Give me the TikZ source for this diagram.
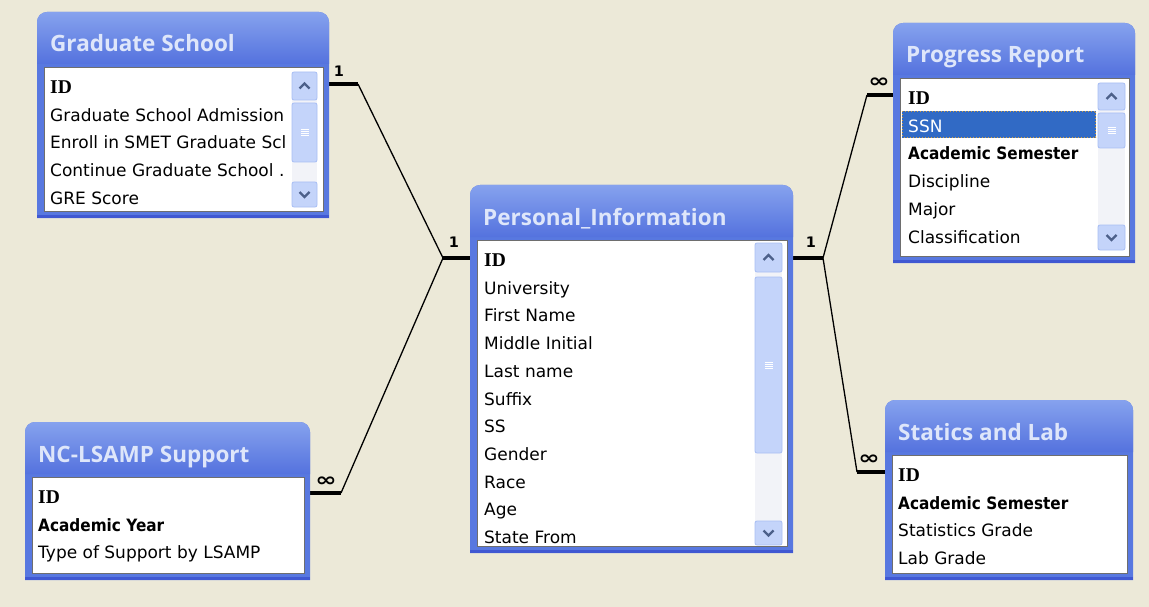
\documentclass[tikz,border=0pt]{standalone}
\usepackage{fontspec}
\setmainfont{DejaVu Sans}
\newfontfamily\rowfont{DejaVu Sans}
\newfontfamily\keyfont{DejaVu Sans}[FakeStretch=0.9]
\newfontfamily\idfont{Liberation Serif}
\newfontfamily\titlefont{Open Sans}
\newfontfamily\relfont{DejaVu Sans}
\definecolor{bg}{RGB}{236,233,216}
\definecolor{winbody}{RGB}{88,120,224}
\definecolor{titletop}{RGB}{134,162,238}
\definecolor{titlebot}{RGB}{84,114,222}
\definecolor{winedge}{RGB}{64,88,210}
\definecolor{titletxt}{RGB}{222,230,250}
\definecolor{boxline}{RGB}{110,110,110}
\definecolor{btnfill}{RGB}{196,212,250}
\definecolor{btnline}{RGB}{168,190,244}
\definecolor{chevc}{RGB}{76,96,138}
\definecolor{trackc}{RGB}{242,243,248}
\definecolor{selblue}{RGB}{49,106,197}
\definecolor{seldot}{RGB}{214,160,60}

\newcommand\xpwin[6]{%
  \fill[winbody] (#2,#5) -- (#2,#3+10) arc[start angle=180,end angle=270,radius=10] -- (#4-10,#3) arc[start angle=270,end angle=360,radius=10] -- (#4,#5) -- cycle;
  \shade[top color=titletop, bottom color=titlebot] (#2,#3+52) -- (#2,#3+10) arc[start angle=180,end angle=270,radius=10] -- (#4-10,#3) arc[start angle=270,end angle=360,radius=10] -- (#4,#3+52) -- cycle;
  \fill[winedge] (#2,#5-3) rectangle (#4,#5);
  \fill[white] (#2+7,#3+55) rectangle (#4-6,#5-7);
  \draw[boxline, line width=0.9pt] (#2+7,#3+55) rectangle (#4-6,#5-7);
  \node[wintitle] (#1) at (#2+13,#3+40) {#6};
}
% l r upTop upBot thumbTop thumbBot downTop downBot
\newcommand\xpscroll[8]{%
  \fill[trackc] (#1,#3) rectangle (#2,#8);
  \draw[btnline, fill=btnfill, rounded corners=2pt, line width=0.8pt] (#1,#3) rectangle (#2,#4);
  \draw[chevc, line width=2.4pt] ({(#1+#2)/2-5},{(#3+#4)/2+2.5}) -- ({(#1+#2)/2},{(#3+#4)/2-2.5}) -- ({(#1+#2)/2+5},{(#3+#4)/2+2.5});
  \draw[btnline, fill=btnfill, rounded corners=2pt, line width=0.8pt] (#1,#5) rectangle (#2,#6);
  \foreach \k in {-3,-1,1,3} \draw[white, line width=0.7pt] ({(#1+#2)/2-4},{(#5+#6)/2+\k}) -- ({(#1+#2)/2+4},{(#5+#6)/2+\k});
  \draw[btnline, fill=btnfill, rounded corners=2pt, line width=0.8pt] (#1,#7) rectangle (#2,#8);
  \draw[chevc, line width=2.4pt] ({(#1+#2)/2-5},{(#7+#8)/2-2.5}) -- ({(#1+#2)/2},{(#7+#8)/2+2.5}) -- ({(#1+#2)/2+5},{(#7+#8)/2-2.5});
}

\begin{document}
\begin{tikzpicture}[x=1pt,y=-1pt,
  rowtxt/.style={anchor=base west, inner sep=0pt, font=\rowfont\fontsize{17}{20}\selectfont, text=black},
  keytxt/.style={anchor=base west, inner sep=0pt, font=\keyfont\bfseries\fontsize{17}{20}\selectfont, text=black},
  idtxt/.style={anchor=base west, inner sep=0pt, font=\idfont\bfseries\fontsize{19.5}{22}\selectfont, text=black},
  wintitle/.style={anchor=base west, inner sep=0pt, font=\titlefont\bfseries\fontsize{22.5}{26}\selectfont, text=titletxt},
  stub/.style={line width=4pt, black},
  relline/.style={line width=1.3pt, black},
  card/.style={inner sep=0pt, font=\relfont\bfseries\fontsize{14.5}{16}\selectfont},
  many/.style={inner sep=0pt, font=\relfont\bfseries\fontsize{19}{20}\selectfont},
]
\useasboundingbox[fill=bg] (0,0) rectangle (1149,607);

% ---------- connectors ----------
\coordinate (gs-a) at (329,84);  \coordinate (gs-b) at (358,84);
\coordinate (pl-a) at (470,258); \coordinate (pl-b) at (443,258);
\coordinate (nc-a) at (310,493); \coordinate (nc-b) at (341,493);
\coordinate (pr-a) at (793,258); \coordinate (pr-b) at (823,258);
\coordinate (rp-a) at (893,95);  \coordinate (rp-b) at (867,95);
\coordinate (sl-a) at (885,472); \coordinate (sl-b) at (857,472);

\draw[relline] (gs-b) -- (pl-b);
\draw[relline] (nc-b) -- (pl-b);
\draw[relline] (pr-b) -- (rp-b);
\draw[relline] (pr-b) -- (sl-b);
\draw[stub] (gs-a) -- (gs-b);
\draw[stub] (pl-a) -- (pl-b);
\draw[stub] (nc-a) -- (nc-b);
\draw[stub] (pr-a) -- (pr-b);
\draw[stub] (rp-a) -- (rp-b);
\draw[stub] (sl-a) -- (sl-b);

\node[card] (c-gs) at (339,71) {1};
\node[card] (c-pl) at (454,242) {1};
\node[card] (c-pr) at (811,242) {1};
\node[many] (m-nc) at (326,482) {\scalebox{1.35}[1]{∞}};
\node[many] (m-rp) at (879,83) {\scalebox{1.35}[1]{∞}};
\node[many] (m-sl) at (869,460) {\scalebox{1.35}[1]{∞}};

% ---------- Graduate School ----------
\xpwin{gs}{37}{12}{329}{218}{Graduate School}
\begin{scope}
\clip (45,68) rectangle (291,210);
\node[idtxt]  (gs-1) at (50,93.5) {ID};
\node[rowtxt] (gs-2) at (50,121.2) {Graduate School Admission};
\node[rowtxt] (gs-3) at (50,148.9) {Enroll in SMET Graduate Scl};
\node[rowtxt] (gs-4) at (50,176.6) {Continue Graduate School .};
\node[rowtxt] (gs-5) at (50,204.3) {GRE Score};
\end{scope}
\xpscroll{292}{317}{72}{100}{103}{162}{182}{207}

% ---------- Personal_Information ----------
\xpwin{pi}{470}{185}{793}{553}{Personal\_Information}
\node[idtxt]  (pi-1) at (484,266.5) {ID};
\node[rowtxt] (pi-2) at (484,294.2) {University};
\node[rowtxt] (pi-3) at (484,321.9) {First Name};
\node[rowtxt] (pi-4) at (484,349.6) {Middle Initial};
\node[rowtxt] (pi-5) at (484,377.3) {Last name};
\node[rowtxt] (pi-6) at (484,405.0) {Suffix};
\node[rowtxt] (pi-7) at (484,432.7) {SS};
\node[rowtxt] (pi-8) at (484,460.4) {Gender};
\node[rowtxt] (pi-9) at (484,488.1) {Race};
\node[rowtxt] (pi-10) at (484,515.8) {Age};
\node[rowtxt] (pi-11) at (484,543.5) {State From};
\xpscroll{755}{782}{243}{272}{277}{453}{521}{545}

% ---------- Progress Report ----------
\xpwin{pr}{893}{23}{1135}{263}{Progress Report}
\fill[selblue] (902,111) rectangle (1096,138);
\draw[seldot, dotted, line width=1pt] (902.5,111.5) rectangle (1095.5,137.5);
\node[idtxt]  (pr-1) at (908,104.5) {ID};
\node[rowtxt, text=white] (pr-2) at (908,132.2) {SSN};
\node[keytxt] (pr-3) at (908,159.9) {Academic Semester};
\node[rowtxt] (pr-4) at (908,187.6) {Discipline};
\node[rowtxt] (pr-5) at (908,215.3) {Major};
\node[rowtxt] (pr-6) at (908,243.0) {Classification};
\xpscroll{1098}{1125}{83}{110}{113}{148}{225}{250}

% ---------- NC-LSAMP Support ----------
\xpwin{nc}{25}{422}{310}{580}{NC-LSAMP Support}
\node[idtxt]  (nc-1) at (38,503.5) {ID};
\node[keytxt] (nc-2) at (38,531.2) {Academic Year};
\node[rowtxt] (nc-3) at (38,558.9) {Type of Support by LSAMP};

% ---------- Statics and Lab ----------
\xpwin{sl}{885}{400}{1133}{580}{Statics and Lab}
\node[idtxt]  (sl-1) at (898,481.5) {ID};
\node[keytxt] (sl-2) at (898,509.2) {Academic Semester};
\node[rowtxt] (sl-3) at (898,536.9) {Statistics Grade};
\node[rowtxt] (sl-4) at (898,564.6) {Lab Grade};
\end{tikzpicture}
\end{document}
